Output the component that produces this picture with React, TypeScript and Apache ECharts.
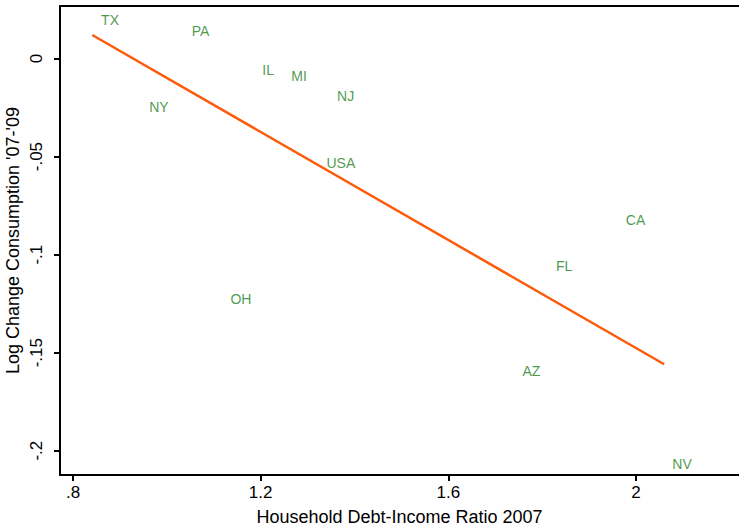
import React, { useEffect, useRef } from "react";
import * as echarts from "echarts";

// State-level household debt vs. change in consumption
const states = ["TX", "PA", "IL", "MI", "NJ", "NY", "USA", "CA", "FL", "OH", "AZ", "NV"];
const debtIncome = [0.879, 1.072, 1.216, 1.282, 1.381, 0.983, 1.371, 1.999, 1.847, 1.158, 1.777, 2.098];
const logChange = [0.0196, 0.014, -0.0057, -0.0089, -0.0191, -0.0249, -0.0531, -0.0824, -0.1058, -0.1228, -0.1594, -0.2068];

// Fitted regression line end points
const fitX = [0.841, 2.06];
const fitY = [0.012, -0.1559];

// Axis ticks
const xTicks = [0.8, 1.2, 1.6, 2.0];
const yTicks = [0, -0.05, -0.1, -0.15, -0.2];

const X_MIN = 0.7723;
const X_MAX = 2.2195;
const Y_MIN = -0.2124;
const Y_MAX = 0.0268;

const FONT = "'Liberation Sans', Arial, Helvetica, sans-serif";

// Stata-style numbers: drop the leading zero
const fmt = (v: number) => {
  const r = Math.round(v * 1000) / 1000;
  let s = String(r);
  s = s.replace(/^0\./, ".").replace(/^-0\./, "-.");
  return s;
};

export default function App() {
  const ref = useRef<HTMLDivElement>(null);

  useEffect(() => {
    if (!ref.current) return;
    const chart = echarts.init(ref.current, null, { renderer: "svg" });
    const axisLine = { show: true, lineStyle: { color: "#000", width: 2 } };
    chart.setOption({
      animation: false,
      backgroundColor: "#fff",
      grid: { left: 60, top: 6, right: 0, bottom: 51, containLabel: false, outerBoundsMode: "none" },
      xAxis: [
        {
          type: "value",
          min: X_MIN,
          max: X_MAX,
          axisLine: { ...axisLine, onZero: false },
          axisTick: { show: true, length: 6, lineStyle: { color: "#000", width: 2 }, customValues: xTicks },
          axisLabel: {
            show: true,
            customValues: xTicks,
            formatter: (v: number) => fmt(v),
            color: "#000",
            fontSize: 17,
            fontFamily: FONT,
            margin: 9,
          },
          splitLine: { show: false },
          name: "Household Debt-Income Ratio 2007",
          nameLocation: "middle",
          nameGap: 33,
          nameMoveOverlap: false,
          nameTextStyle: { color: "#000", fontSize: 18, fontFamily: FONT, verticalAlign: "top" },
        },
        {
          type: "value",
          position: "top",
          min: X_MIN,
          max: X_MAX,
          axisLine: { ...axisLine, onZero: false },
          axisTick: { show: false },
          axisLabel: { show: false },
          splitLine: { show: false },
        },
      ],
      yAxis: {
        type: "value",
        min: Y_MIN,
        max: Y_MAX,
        axisLine: { ...axisLine, onZero: false },
        axisTick: { show: true, length: 6, lineStyle: { color: "#000", width: 2 }, customValues: yTicks },
        axisLabel: {
          show: true,
          customValues: yTicks,
          formatter: (v: number) => fmt(v),
          color: "#000",
          fontSize: 17,
          fontFamily: FONT,
          rotate: 90,
          margin: 15,
        },
        splitLine: { show: false },
        name: "Log Change Consumption '07-'09",
        nameLocation: "middle",
        nameRotate: 90,
        nameGap: 38,
        nameMoveOverlap: false,
        nameTextStyle: { color: "#000", fontSize: 18, fontFamily: FONT },
      },
      series: [
        {
          type: "line",
          data: fitX.map((x, i) => [x, fitY[i]]),
          showSymbol: false,
          symbol: "none",
          lineStyle: { color: "#ff5a0a", width: 2.5 },
          silent: true,
        },
        {
          type: "scatter",
          data: states.map((s, i) => ({ name: s, value: [debtIncome[i], logChange[i]] })),
          symbolSize: 0,
          itemStyle: { color: "#1b801b" },
          label: {
            show: true,
            position: "inside",
            formatter: (p: any) => p.name,
            color: "#1b801b",
            fontSize: 14,
            fontFamily: FONT,
          },
          silent: true,
        },
      ],
    });
    return () => chart.dispose();
  }, []);

  return (
    <div
      ref={ref}
      style={{ position: "absolute", left: 0, top: 0, width: 739, height: 526 }}
    />
  );
}
